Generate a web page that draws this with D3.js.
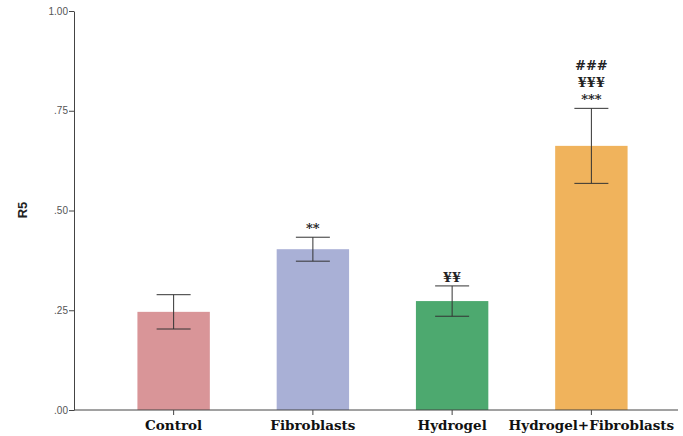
<!DOCTYPE html>
<html>
<head>
<meta charset="utf-8">
<script src="https://cdn.jsdelivr.net/npm/d3@7"></script>
<style>
  html, body { margin: 0; padding: 0; background: #fff; }
  svg { display: block; }
</style>
</head>
<body>
<script>
// Group means, error half-widths and significance marks
const categories = ["Control", "Fibroblasts", "Hydrogel", "Hydrogel+Fibroblasts"];
const means = [0.246, 0.403, 0.273, 0.662];
const errors = [0.043, 0.030, 0.038, 0.094];
const marks = [[], ["**"], ["¥¥"], ["###", "¥¥¥", "***"]];
const colors = ["#D99598", "#A9B0D6", "#4DA96F", "#F0B35C"];
const yTicks = [0, 0.25, 0.5, 0.75, 1.0];

const W = 683, H = 436;
const svg = d3.select("body").append("svg").attr("width", W).attr("height", H);

const x = d3.scaleBand().domain(categories).range([104, 661]).paddingInner(0.48).paddingOuter(0.24);
const y = d3.scaleLinear().domain([0, 1]).range([410, 11]);

const fmt = v => v === 1 ? "1.00" : d3.format(".2f")(v).replace(/^0/, "");

// y axis
const yAxis = svg.append("g").attr("transform", "translate(74,0)")
  .call(d3.axisLeft(y).tickValues(yTicks).tickFormat(fmt).tickSize(5).tickSizeOuter(0));
yAxis.select(".domain").attr("stroke", "#444");
yAxis.selectAll(".tick line").attr("stroke", "#444");
yAxis.selectAll(".tick text").attr("fill", "#555").attr("font-family", "Liberation Sans, Arial, sans-serif")
  .attr("font-size", 10).attr("x", -6);

// bars
svg.selectAll("rect.bar").data(categories).enter().append("rect")
  .attr("class", "bar")
  .attr("x", d => x(d))
  .attr("width", x.bandwidth())
  .attr("y", (d, i) => y(means[i]))
  .attr("height", (d, i) => y(0) - y(means[i]))
  .attr("fill", (d, i) => colors[i]);

// x axis
const xAxis = svg.append("g").attr("transform", "translate(0,410)")
  .call(d3.axisBottom(x).tickSize(5).tickSizeOuter(0));
xAxis.select(".domain").remove();
svg.append("line").attr("x1", 74).attr("x2", 678).attr("y1", 410).attr("y2", 410).attr("stroke", "#444");
xAxis.selectAll(".tick line").attr("stroke", "#444");
xAxis.selectAll(".tick text").attr("fill", "#111").attr("font-family", "DejaVu Serif, serif")
  .attr("font-weight", "bold").attr("font-size", 13.5).attr("y", 10);

// error bars
const capHalf = 17;
const eb = svg.append("g").attr("stroke", "#333").attr("stroke-width", 1);
categories.forEach((c, i) => {
  const cx = x(c) + x.bandwidth() / 2;
  const hi = y(means[i] + errors[i]), lo = y(means[i] - errors[i]);
  eb.append("line").attr("x1", cx).attr("x2", cx).attr("y1", hi).attr("y2", lo);
  eb.append("line").attr("x1", cx - capHalf).attr("x2", cx + capHalf).attr("y1", hi).attr("y2", hi);
  eb.append("line").attr("x1", cx - capHalf).attr("x2", cx + capHalf).attr("y1", lo).attr("y2", lo);
});

// significance marks stacked above each error bar
categories.forEach((c, i) => {
  const cx = x(c) + x.bandwidth() / 2;
  const top = y(means[i] + errors[i]);
  const n = marks[i].length;
  marks[i].forEach((m, j) => {
    svg.append("text")
      .attr("x", cx)
      .attr("y", top - 4 - (n - 1 - j) * 17)
      .attr("text-anchor", "middle")
      .attr("font-family", "DejaVu Serif, serif")
      .attr("font-weight", "bold")
      .attr("font-size", m.includes("*") ? 13 : 13)
      .attr("fill", "#222")
      .text(m);
  });
});

// y axis title
svg.append("text")
  .attr("transform", "translate(27,210) rotate(-90)")
  .attr("text-anchor", "middle")
  .attr("font-family", "Liberation Sans, Arial, sans-serif")
  .attr("font-weight", "bold")
  .attr("font-size", 13)
  .attr("fill", "#222")
  .text("R5");
</script>
</body>
</html>
